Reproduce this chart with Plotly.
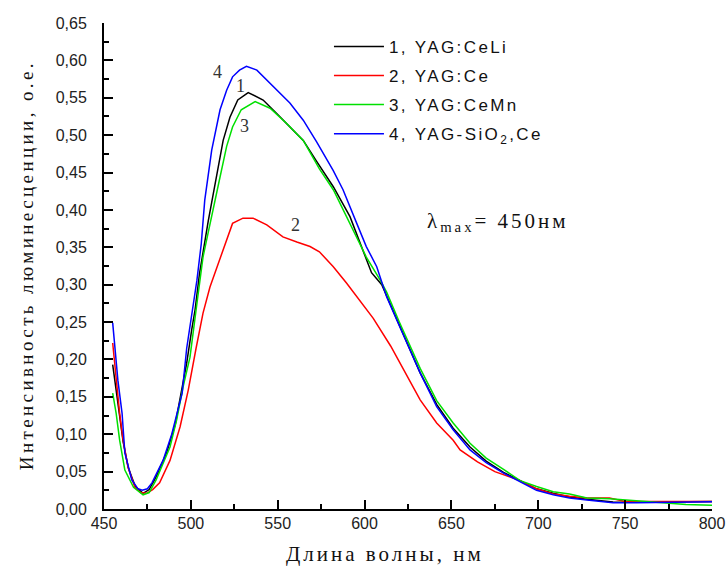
import plotly.graph_objects as go

# ---- data ----
x_celi = [455, 457, 459, 461, 464, 468, 472.5, 476, 480, 486, 491, 494.7, 497.6, 500.5, 502.4, 505, 507, 510, 512, 515,
          518.6, 522.5, 527, 533, 541.6, 549.4, 557, 564.7, 572.4, 582, 591.6, 601, 604, 609.9, 620, 632, 641.5, 651,
          660.7, 670, 680, 689.5, 699, 708.6, 718, 728, 743, 757, 770, 785, 800]
y_celi = [0.193, 0.16, 0.125, 0.09, 0.055, 0.03, 0.021, 0.026, 0.043, 0.075, 0.113, 0.159, 0.195, 0.24, 0.266, 0.315,
          0.345, 0.385, 0.41, 0.449, 0.493, 0.524, 0.547, 0.557, 0.547, 0.529, 0.511, 0.493, 0.465, 0.431, 0.391, 0.333,
          0.316, 0.30, 0.245, 0.182, 0.14, 0.108, 0.083, 0.064, 0.049, 0.038, 0.027, 0.021, 0.016, 0.013, 0.0095,
          0.009, 0.009, 0.0095, 0.01]

x_ce = [455, 457, 459, 461, 463.8, 467.8, 471, 474.6, 478, 482, 488, 493.8, 498.5, 503, 507, 511, 515, 519.7, 524, 530,
        535.8, 543.7, 553, 561, 568.6, 574, 582, 589.7, 595.5, 605, 615, 623, 632, 641.5, 651, 655, 665, 675, 689.5,
        699, 708.6, 718, 728, 741, 750, 765, 780, 790, 800]
y_ce = [0.222, 0.172, 0.128, 0.092, 0.056, 0.029, 0.022, 0.021, 0.026, 0.035, 0.065, 0.11, 0.159, 0.215, 0.262, 0.297,
        0.324, 0.356, 0.382, 0.389, 0.389, 0.38, 0.364, 0.357, 0.351, 0.344, 0.324, 0.302, 0.284, 0.255, 0.218, 0.185,
        0.146, 0.115, 0.092, 0.079, 0.063, 0.05, 0.038, 0.027, 0.02, 0.017, 0.0147, 0.0147, 0.01, 0.01, 0.01, 0.01,
        0.01]

x_cemn = [455, 457, 459, 462, 467, 472.5, 476, 480, 488, 491.8, 495.5, 499.5, 504, 507, 510, 512.9, 516.8, 520.6, 524,
          529, 537, 545.6, 555, 564.7, 574, 582, 591.6, 601, 609, 612.7, 620, 632, 641.5, 651, 660.7, 670, 680, 689.5,
          699, 708.6, 718, 728, 741, 757, 770, 785, 800]
y_cemn = [0.155, 0.128, 0.092, 0.052, 0.029, 0.019, 0.022, 0.039, 0.083, 0.119, 0.163, 0.203, 0.284, 0.337, 0.37, 0.40,
          0.444, 0.485, 0.511, 0.534, 0.545, 0.536, 0.516, 0.493, 0.455, 0.427, 0.382, 0.337, 0.306, 0.29, 0.25, 0.188,
          0.145, 0.115, 0.088, 0.068, 0.053, 0.038, 0.030, 0.023, 0.02, 0.0147, 0.0138, 0.011, 0.008, 0.006, 0.005]

x_sio2 = [455, 456, 458, 460.4, 462, 466, 469.6, 472, 475, 477.6, 484, 489, 495, 497.6, 500.7, 503.5, 506, 508, 512,
          516.8, 520.6, 524, 528, 532, 538, 543.7, 549.4, 557, 564.7, 572.4, 581.9, 587.6, 595.5, 601, 607, 612.7, 620,
          632, 641.5, 651, 660.7, 670, 680, 689.5, 699, 708.6, 718, 728, 743, 756.6, 770, 785, 800]
y_sio2 = [0.249, 0.226, 0.172, 0.128, 0.075, 0.039, 0.027, 0.025, 0.027, 0.035, 0.065, 0.10, 0.155, 0.215, 0.266, 0.306,
          0.355, 0.413, 0.48, 0.534, 0.56, 0.578, 0.587, 0.592, 0.587, 0.574, 0.56, 0.543, 0.52, 0.491, 0.453, 0.427,
          0.382, 0.351, 0.324, 0.284, 0.245, 0.182, 0.137, 0.106, 0.079, 0.062, 0.048, 0.0365, 0.025, 0.019, 0.0147,
          0.012, 0.0085, 0.0085, 0.009, 0.0095, 0.0098]

names = ["1, YAG:CeLi", "2, YAG:Ce", "3, YAG:CeMn", "4, YAG-SiO<sub>2</sub>,Ce"]
colors = ["#000000", "#ff0000", "#00e000", "#0000ff"]
xs = [x_celi, x_ce, x_cemn, x_sio2]
ys = [y_celi, y_ce, y_cemn, y_sio2]

# curve number labels
label_x = [528.7, 560.5, 530.8, 515.6]
label_y = [0.566, 0.380, 0.512, 0.585]
label_t = ["1", "2", "3", "4"]

SANS = "Liberation Sans, Arial, sans-serif"
SERIF = "Liberation Serif, Times New Roman, serif"


def spaced(text, px):
    return f'<span style="letter-spacing:{px}px">{text}</span>'


fig = go.Figure()
for n, c, x, y in zip(names, colors, xs, ys):
    fig.add_trace(go.Scatter(x=x, y=y, mode="lines", name=spaced(n, 2.4),
                             line=dict(color=c, width=1.5), legendgroup=n))

for lx, ly, lt in zip(label_x, label_y, label_t):
    fig.add_annotation(x=lx, y=ly, text=lt, showarrow=False,
                       font=dict(family=SERIF, size=18, color="#333333"))

fig.add_annotation(x=677, y=0.384, text=spaced("λ<sub>max</sub>= 450нм", 3), showarrow=False,
                   font=dict(family=SERIF, size=21, color="#111111"))

# axis titles
fig.add_annotation(xref="paper", yref="paper", x=0.462, y=-0.092, text=spaced("Длина волны, нм", 3),
                   showarrow=False, xanchor="center", yanchor="middle",
                   font=dict(family=SERIF, size=21, color="#111111"))
fig.add_annotation(xref="paper", yref="paper", x=-0.128, y=0.502,
                   text=spaced("Интенсивность люминесценции, о.е.", 3.4),
                   showarrow=False, textangle=-90, xanchor="center", yanchor="middle",
                   font=dict(family=SERIF, size=19, color="#111111"))

fig.update_layout(
    width=726, height=572,
    margin=dict(l=104, r=14, t=23, b=63),
    paper_bgcolor="white", plot_bgcolor="white",
    separators=",.",
    showlegend=True,
    legend=dict(x=0.37, y=0.988, xanchor="left", yanchor="top",
                font=dict(family=SANS, size=17, color="#111111"),
                bgcolor="rgba(0,0,0,0)", tracegroupgap=4, itemwidth=50),
    xaxis=dict(range=[450, 800], dtick=50, tick0=450, showgrid=False, zeroline=False,
               showline=True, linecolor="black", linewidth=2, automargin=False,
               ticks="inside", ticklen=9, tickwidth=2, tickcolor="black",
               minor=dict(ticks="inside", ticklen=5, tickwidth=1.5, dtick=25, tickcolor="black"),
               tickfont=dict(family=SANS, size=16, color="#222222"),
               ticklabelstandoff=-1),
    yaxis=dict(range=[0, 0.65], dtick=0.05, tick0=0, tickformat=".2f", showgrid=False, zeroline=False,
               showline=True, linecolor="black", linewidth=2, automargin=False,
               ticks="inside", ticklen=9, tickwidth=2, tickcolor="black",
               minor=dict(ticks="inside", ticklen=5, tickwidth=1.5, dtick=0.025, tickcolor="black"),
               tickfont=dict(family=SANS, size=16, color="#222222"),
               ticklabelstandoff=12),
)

# remove the browser's default 8px body margin so the figure fills the window exactly
fig.write_html("out.html", config={"displayModeBar": False},
               post_script="document.body.style.margin='0';document.body.style.overflow='hidden';")
